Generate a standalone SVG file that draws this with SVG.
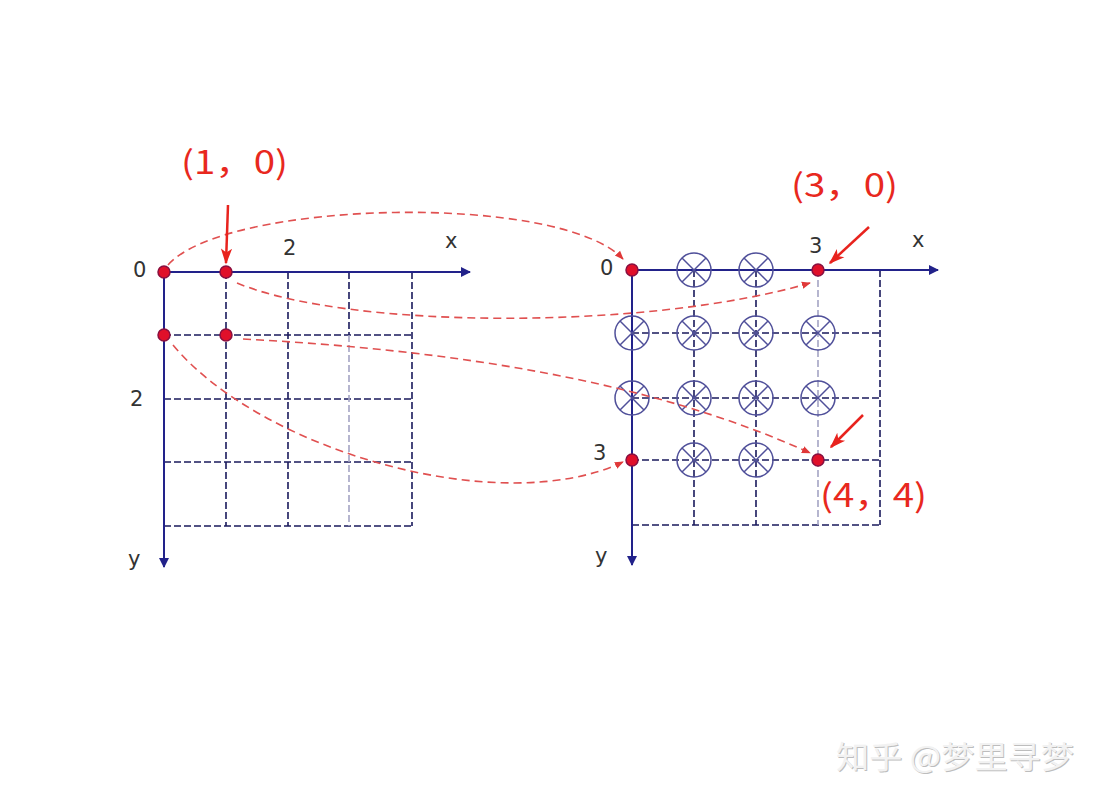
<svg xmlns="http://www.w3.org/2000/svg" width="1101" height="804" viewBox="0 0 1101 804">
<defs>
<style>
.axis{stroke:#22228a;stroke-width:2;fill:none}
.grid{stroke:#1a1a5c;stroke-width:1.6;stroke-dasharray:7 3;fill:none}
.glight{stroke:#a4a4c4;stroke-width:1.6;stroke-dasharray:7 3;fill:none}
.lbl{font-family:"DejaVu Sans",Verdana,sans-serif;font-size:21px;fill:#333}
.red{font-family:"Noto Sans CJK SC","Noto Sans",sans-serif;font-size:32px;fill:#e8281e}
.curve{stroke:#e05050;stroke-width:1.6;stroke-dasharray:8 5;fill:none}
.rarrow{stroke:#e8231e;stroke-width:2.5;fill:none}
.dot{fill:#e0102a;stroke:#8a1040;stroke-width:1.5}
.cx{stroke:#50509a;stroke-width:1.5;fill:none}
</style>
<marker id="axhead" viewBox="0 0 10 10" refX="9" refY="5" markerWidth="10" markerHeight="10" markerUnits="userSpaceOnUse" orient="auto">
<path d="M0,0 L10,5 L0,10 z" fill="#22228a"/>
</marker>
<marker id="dhead" viewBox="0 0 10 10" refX="9" refY="5" markerWidth="9" markerHeight="9" markerUnits="userSpaceOnUse" orient="auto">
<path d="M0,1 L10,5 L0,9 z" fill="#e03838"/>
</marker>
<marker id="rhead" viewBox="0 0 10 10" refX="9" refY="5" markerWidth="16" markerHeight="16" markerUnits="userSpaceOnUse" orient="auto">
<path d="M0,1.5 L10,5 L0,8.5 L2.5,5 z" fill="#e8231e"/>
</marker>
<g id="cross">
<circle r="17" class="cx"/>
<path d="M-12,-12 L12,12 M12,-12 L-12,12" class="cx"/>
</g>
</defs>
<rect width="1101" height="804" fill="#ffffff"/>

<g id="left-grid">
<path class="grid" d="M164,335 H412 M164,399 H412 M164,462 H412 M164,526 H412"/>
<path class="grid" d="M226,272 V526 M288,272 V526 M412,272 V526 M349,272 V335"/>
<path class="glight" d="M349,335 V526"/>
<line class="axis" x1="164" y1="272" x2="470" y2="272" marker-end="url(#axhead)"/>
<line class="axis" x1="164" y1="272" x2="164" y2="567" marker-end="url(#axhead)"/>
<text class="lbl" x="133" y="277">0</text>
<text class="lbl" x="283" y="255">2</text>
<text class="lbl" x="445" y="248">x</text>
<text class="lbl" x="130" y="406">2</text>
<text class="lbl" x="128" y="566">y</text>
</g>

<g id="right-grid">
<path class="grid" d="M632,333 H880 M632,398 H880 M632,460 H880 M632,525 H880"/>
<path class="grid" d="M694,270 V525 M756,270 V525 M880,270 V525"/>
<path class="glight" d="M818,270 V525"/>
<line class="axis" x1="632" y1="270" x2="938" y2="270" marker-end="url(#axhead)"/>
<line class="axis" x1="632" y1="270" x2="632" y2="565" marker-end="url(#axhead)"/>
<text class="lbl" x="600" y="275">0</text>
<text class="lbl" x="809" y="253">3</text>
<text class="lbl" x="912" y="247">x</text>
<text class="lbl" x="593" y="460">3</text>
<text class="lbl" x="595" y="563">y</text>
</g>

<g id="crosses">
<use href="#cross" x="694" y="270"/>
<use href="#cross" x="756" y="270"/>
<use href="#cross" x="632" y="333"/>
<use href="#cross" x="694" y="333"/>
<use href="#cross" x="756" y="333"/>
<use href="#cross" x="818" y="333"/>
<use href="#cross" x="632" y="398"/>
<use href="#cross" x="694" y="398"/>
<use href="#cross" x="756" y="398"/>
<use href="#cross" x="818" y="398"/>
<use href="#cross" x="694" y="460"/>
<use href="#cross" x="756" y="460"/>
</g>

<g id="connectors">
<path class="curve" d="M168,265 C225,200 560,192 623,259" marker-end="url(#dhead)"/>
<path class="curve" d="M237,283 C350,330 650,330 810,283" marker-end="url(#dhead)"/>
<path class="curve" d="M243,339 C450,350 650,380 810,453" marker-end="url(#dhead)"/>
<path class="curve" d="M173,345 C260,450 500,520 623,462" marker-end="url(#dhead)"/>
<line class="rarrow" x1="228" y1="205" x2="226" y2="263" marker-end="url(#rhead)"/>
<line class="rarrow" x1="869" y1="227" x2="830" y2="263" marker-end="url(#rhead)"/>
<line class="rarrow" x1="863" y1="415" x2="831" y2="447" marker-end="url(#rhead)"/>
</g>

<g id="points">
<circle class="dot" cx="164" cy="272" r="6"/>
<circle class="dot" cx="226" cy="272" r="6"/>
<circle class="dot" cx="164" cy="335" r="6"/>
<circle class="dot" cx="226" cy="335" r="6"/>
<circle class="dot" cx="632" cy="270" r="6"/>
<circle class="dot" cx="818" cy="270" r="6"/>
<circle class="dot" cx="632" cy="460" r="6"/>
<circle class="dot" cx="818" cy="460" r="6"/>
</g>

<g id="labels">
<text class="red" x="181" y="174" textLength="107" lengthAdjust="spacingAndGlyphs">(1，0)</text>
<text class="red" x="791" y="197" textLength="107" lengthAdjust="spacingAndGlyphs">(3，0)</text>
<text class="red" x="820" y="507" textLength="107" lengthAdjust="spacingAndGlyphs">(4，4)</text>
</g>

<g id="watermark">
<text x="837" y="769" font-family="Noto Sans CJK SC,sans-serif" font-size="31" fill="#bdbdbd" textLength="238" lengthAdjust="spacingAndGlyphs">知乎 @梦里寻梦</text>
<text x="836" y="768" font-family="Noto Sans CJK SC,sans-serif" font-size="31" fill="#f2f2f2" textLength="238" lengthAdjust="spacingAndGlyphs">知乎 @梦里寻梦</text>
</g>
</svg>
